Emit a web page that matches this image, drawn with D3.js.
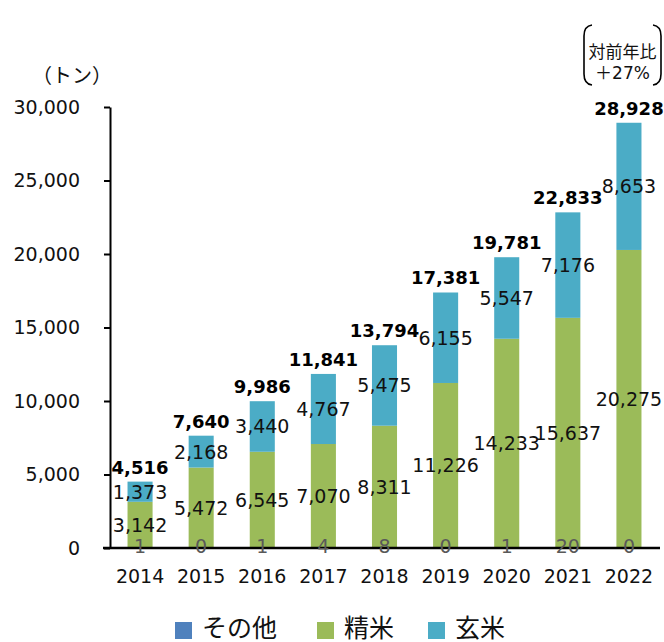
<!DOCTYPE html>
<html><head><meta charset="utf-8">
<script src="https://cdn.jsdelivr.net/npm/d3@7"></script>
<style>body{margin:0;background:#fff;}svg{display:block;}</style>
</head><body>
<svg id="c" width="664" height="642"></svg>
<script>
const years = ["2014","2015","2016","2017","2018","2019","2020","2021","2022"];
const other = [1,0,1,4,8,0,1,20,0];
const seimai = [3142,5472,6545,7070,8311,11226,14233,15637,20275];
const genmai = [1373,2168,3440,4767,5475,6155,5547,7176,8653];
const totals = [4516,7640,9986,11841,13794,17381,19781,22833,28928];
const yTicks = [0,5000,10000,15000,20000,25000,30000];
const seriesNames = ["その他","精米","玄米"];
const colors = ["#4F81BD","#9BBB59","#4BACC6"];

const FONT = "'DejaVu Sans','Noto Sans CJK JP',sans-serif";
const svg = d3.select("#c");
const x = d3.scaleBand().domain(years).range([109.5,659.5]).paddingInner(0.59).paddingOuter(0.295);
const y = d3.scaleLinear().domain([0,30000]).range([548,107]);
const fmt = d3.format(",");

const rows = years.map((yr,i)=>({year:yr, その他:other[i], 精米:seimai[i], 玄米:genmai[i]}));
const stack = d3.stack().keys(seriesNames)(rows);

// bars
stack.forEach((s,si)=>{
  svg.append("g").selectAll("rect").data(s).join("rect")
    .attr("x", d=>x(d.data.year))
    .attr("width", x.bandwidth())
    .attr("y", d=>y(d[1]))
    .attr("height", d=>Math.max(0,y(d[0])-y(d[1])))
    .attr("fill", colors[si]);
});

// y axis
const yAxis = svg.append("g").attr("transform","translate(110,0)")
  .call(d3.axisLeft(y).tickValues(yTicks).tickFormat(fmt).tickSize(6).tickSizeOuter(0).tickPadding(24));
yAxis.select(".domain").attr("stroke","#000").attr("stroke-width",2);
yAxis.selectAll(".tick line").attr("stroke","#000").attr("stroke-width",2);
yAxis.selectAll("text").attr("font-family",FONT).attr("font-size",19).attr("fill","#111");

// x axis
const xAxis = svg.append("g").attr("transform","translate(0,548)")
  .call(d3.axisBottom(x).tickSize(0).tickSizeOuter(0).tickPadding(22));
xAxis.select(".domain").attr("d","M103,0H660").attr("stroke","#000").attr("stroke-width",2.5);
xAxis.selectAll("text").attr("font-family",FONT).attr("font-size",19).attr("fill","#111");

// その他 labels
svg.append("g").selectAll("text").data(rows).join("text")
  .attr("x", d=>x(d.year)+x.bandwidth()/2).attr("y", 553)
  .attr("text-anchor","middle").attr("font-family",FONT).attr("font-size",19).attr("fill","#595959")
  .text(d=>fmt(d.その他));

// 精米 / 玄米 labels centered in segments
[1,2].forEach(si=>{
  svg.append("g").selectAll("text").data(stack[si]).join("text")
    .attr("x", d=>x(d.data.year)+x.bandwidth()/2)
    .attr("y", d=>(y(d[0])+y(d[1]))/2 + 7)
    .attr("text-anchor","middle").attr("font-family",FONT).attr("font-size",19).attr("fill","#111")
    .text(d=>fmt(d[1]-d[0]));
});

// totals
svg.append("g").selectAll("text").data(totals).join("text")
  .attr("x", (d,i)=>x(years[i])+x.bandwidth()/2)
  .attr("y", d=>y(d)-8)
  .attr("text-anchor","middle").attr("font-family",FONT).attr("font-size",18).attr("font-weight","bold").attr("fill","#000")
  .text(d=>fmt(d));

// unit label
svg.append("text").attr("x",72).attr("y",83).attr("text-anchor","middle")
  .attr("font-family",FONT).attr("font-size",20).attr("fill","#111").text("（トン）");

// annotation with brackets
const ann = svg.append("g");
ann.append("path").attr("d","M592,25 Q584,26 584,36 V74 Q584,84 592,85")
  .attr("fill","none").attr("stroke","#000").attr("stroke-width",1.6);
ann.append("path").attr("d","M653,25 Q661,26 661,36 V74 Q661,84 653,85")
  .attr("fill","none").attr("stroke","#000").attr("stroke-width",1.6);
ann.append("text").attr("x",622.5).attr("y",58).attr("text-anchor","middle")
  .attr("font-family",FONT).attr("font-size",17).attr("fill","#111").text("対前年比");
ann.append("text").attr("x",622.5).attr("y",79).attr("text-anchor","middle")
  .attr("font-family",FONT).attr("font-size",17).attr("fill","#111").text("＋27%");

// legend
const legX = [175,317,428];
const lg = svg.append("g");
seriesNames.forEach((n,i)=>{
  lg.append("rect").attr("x",legX[i]).attr("y",622).attr("width",17).attr("height",17).attr("fill",colors[i]);
  lg.append("text").attr("x",legX[i]+27).attr("y",637)
    .attr("font-family",FONT).attr("font-size",25).attr("fill","#111").text(n);
});
</script>
</body></html>
